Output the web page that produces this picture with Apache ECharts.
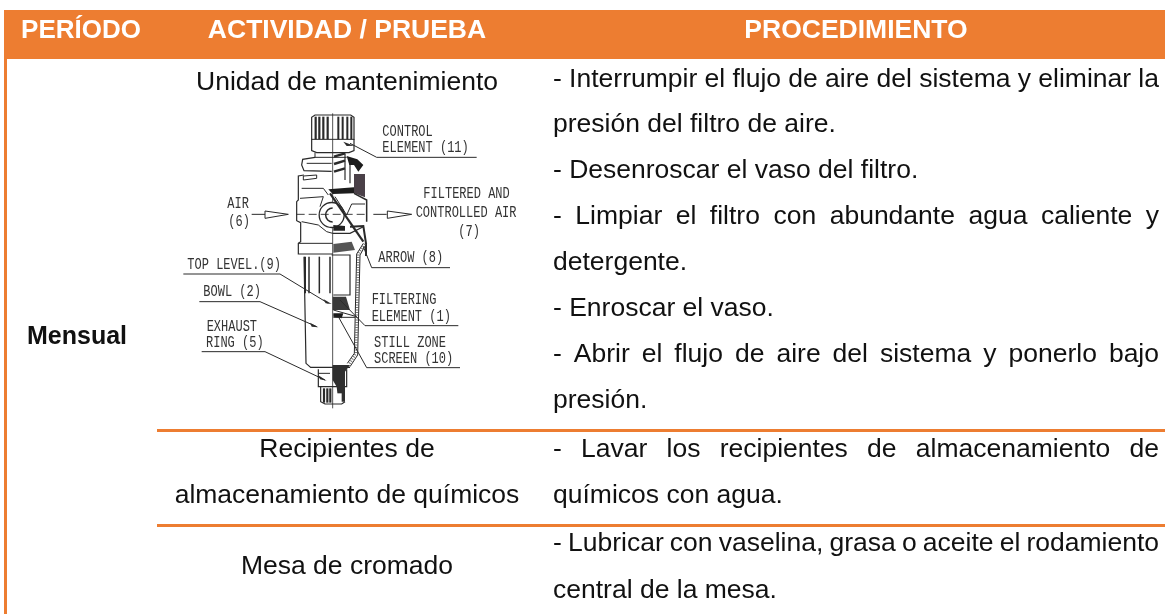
<!DOCTYPE html>
<html><head><meta charset="utf-8">
<style>html,body{margin:0;padding:0;background:#fff}#c{width:1165px;height:614px}</style>
<script src="https://cdn.jsdelivr.net/npm/echarts@6/dist/echarts.min.js"></script>
</head><body><div id="c"></div>
<script>
const headers=["PERÍODO","ACTIVIDAD / PRUEBA","PROCEDIMIENTO"];
const period=["Mensual"];
const activities=["Unidad de mantenimiento","Recipientes de","almacenamiento de químicos","Mesa de cromado"];
const procedure=[
"- Interrumpir el flujo de aire del sistema y eliminar la",
"presión del filtro de aire.",
"- Desenroscar el vaso del filtro.",
"- Limpiar el filtro con abundante agua caliente y",
"detergente.",
"- Enroscar el vaso.",
"- Abrir el flujo de aire del sistema y ponerlo bajo",
"presión.",
"- Lavar los recipientes de almacenamiento de",
"químicos con agua.",
"- Lubricar con vaselina, grasa o aceite el rodamiento",
"central de la mesa."];
const partLabels=["CONTROL","ELEMENT (11)","AIR","(6)","FILTERED AND","CONTROLLED AIR","(7)","ARROW (8)","TOP LEVEL.(9)","BOWL (2)","FILTERING","ELEMENT (1)","EXHAUST","RING (5)","STILL ZONE","SCREEN (10)"];

const ORANGE='#ed7d31',FONT='"Liberation Sans",Arial,sans-serif',SZ=26.5,INK='#111';
const g=[];
const rect=(x,y,w,h,f)=>g.push({type:'rect',shape:{x,y,width:w,height:h},style:{fill:f},silent:true});
const text=(t,x,base,o={})=>{const s=o.s||SZ;g.push({type:'text',x,y:base-0.27*s,style:{text:t,fill:o.fill||INK,font:`${o.b?'bold ':''}${s}px ${FONT}`,textAlign:o.a||'left',textVerticalAlign:'middle'},silent:true});};
// table frame
rect(4,10,1161,49,ORANGE);
rect(4,59,3,555,ORANGE);
rect(157,429,1008,3,ORANGE);
rect(157,524,1008,3,ORANGE);
const hdrOpt={b:1,fill:'#fff',a:'center'};
text(headers[0],81,37.5,{...hdrOpt,s:26});
text(headers[1],347,37.5,hdrOpt);
text(headers[2],856,37.5,hdrOpt);
text(period[0],77,344,{b:1,a:'center',s:25});
[90,456.7,502.7,574].forEach((b,i)=>text(activities[i],347,b,{a:'center'}));
// procedure column, justified lines are spread word by word
const procBase=[86.7,131.7,177.7,224,270,316,361.7,407.7,456.7,502.7,550.7,597.7];
const justified=[0,3,6,8,10];
const mc=document.createElement('canvas').getContext('2d');
mc.font=`${SZ}px ${FONT}`;
const L=553,R=1159;
procedure.forEach((t,i)=>{
  const y=procBase[i];
  if(!justified.includes(i)){text(t,L,y);return;}
  const ws=t.split(' ');const sum=ws.reduce((a,w)=>a+mc.measureText(w).width,0);
  const gap=(R-L-sum)/(ws.length-1);let x=L;
  ws.forEach(w=>{text(w,x,y);x+=mc.measureText(w).width+gap;});
});

// ---- illustration, in a local frame (crop units: 3 per pixel, origin at 150,100)
const P=(X,Y)=>[150+X/3,100+Y/3];
const PP=a=>a.map(p=>P(p[0],p[1]));
const DK='#2a2a2a';
const line=(pts,w=1,c=DK,dash)=>g.push({type:'polyline',shape:{points:PP(pts)},style:{stroke:c,lineWidth:w,fill:null,lineDash:dash||null},silent:true});
const poly=(pts,f=DK)=>g.push({type:'polygon',shape:{points:PP(pts)},style:{fill:f,stroke:null},silent:true});
const labelPos=[[697,95],[697,145],[232,313],[235,367],[820,283],[797,338],[925,395],[685,475],[112,495],[160,577],[665,600],[665,650],[170,680],[168,728],[672,730],[672,777]];
partLabels.forEach((t,i)=>{const [x,y]=P(labelPos[i][0],labelPos[i][1]);
  g.push({type:'text',x,y,scaleY:1.3,style:{text:t,fill:'#333',font:`12px "Liberation Mono",monospace`,textAlign:'left',textVerticalAlign:'middle'},silent:true});});
// centre line
line([[548,40],[548,925]],0.8);
// knob
line([[485,120],[485,52],[495,45],[602,45],[612,52],[612,120]],1.2);
[497,508,520,533,565,578,592,604].forEach(X=>line([[X,50],[X,118]],X<540?2.2:2));
line([[485,118],[612,118]],1);
line([[485,118],[485,152],[500,158],[597,158],[612,152],[612,118]],1.2);
line([[495,158],[495,172],[590,172]],1);
poly([[580,125],[612,137],[590,138]]);
// collar & upper body
line([[495,172],[458,178],[455,195],[462,212],[545,214]],1.2);
line([[470,190],[545,190]],1);
line([[462,225],[445,228],[445,300],[440,305],[440,362],[452,368],[452,425],[445,430],[445,462],[548,462]],1.2);
line([[460,228],[500,225],[500,235],[460,240],[460,228]],1);
line([[455,265],[520,265],[535,285]],1);
line([[450,295],[520,290],[510,320]],1);
line([[455,365],[505,375],[530,395],[548,400]],1);
line([[445,430],[548,430]],1);
// circle port
g.push({type:'circle',shape:{cx:150+545/3,cy:100+345/3,r:12.5},style:{stroke:DK,lineWidth:1.3,fill:'#fff'},silent:true});
g.push({type:'arc',shape:{cx:150+548/3,cy:100+345/3,r:7,startAngle:Math.PI/2,endAngle:Math.PI*1.5},style:{stroke:DK,lineWidth:1.5,fill:null},silent:true});
// right section (dark parts)
[[552,170],[552,192],[552,215]].forEach(p=>line([[p[0],p[1]],[585,p[1]-10]],2.5));
line([[585,160],[585,240]],1.2);line([[600,175],[600,250]],1.2);
poly([[590,168],[622,178],[640,195],[625,215],[612,195],[598,195]],'#1c1c1c');
poly([[612,222],[645,222],[645,292],[612,280]],'#4a4048');
poly([[535,268],[612,262],[612,280],[548,282]],'#1c1c1c');
line([[612,280],[650,300],[650,365]],1.5);
line([[548,400],[600,400],[640,380]],1.2);
poly([[550,375],[585,378],[585,392],[550,392]],'#222');
poly([[550,432],[605,425],[615,450],[550,458]],'#555');
line([[540,280],[640,425]],2.2);
line([[555,290],[590,345],[605,312],[645,312]],1);
line([[600,380],[640,378],[648,430],[648,468]],2);
// hatched wall
line([[645,432],[625,462],[618,760],[598,792]],2.5,'#777',[1,1.5]);
line([[640,430],[620,462],[613,760],[592,790]],1,DK);
line([[650,430],[630,465],[623,765],[600,800]],1,DK);
// bowl
line([[462,470],[468,790],[482,802],[600,802]],1.2);
[477,508,540].forEach(X=>line([[X,470],[X,580]],1.5));
line([[465,470],[465,580]],2);
line([[545,465],[600,465],[600,585],[550,585]],1.2);
// filter element + screen
poly([[548,590],[588,590],[600,630],[548,630]],'#3a3a3a');
poly([[550,640],[580,640],[575,655],[550,650]],'#1a1a1a');
line([[550,630],[620,650]],1);line([[550,652],[615,652]],1);
// drain
line([[505,808],[505,860],[590,860],[590,808]],1.2);
poly([[548,795],[600,795],[585,815],[585,905],[565,905],[560,860],[548,840]],'#2f2f2f');
line([[512,860],[512,905],[525,912],[575,912],[585,905]],1.2);
[522,532,541].forEach(X=>line([[X,865],[X,908]],2.2));
poly([[560,880],[575,880],[575,908],[560,908]],'#fff');
line([[505,820],[540,820]],1);
// flow arrows
line([[305,343],[345,343]],1);
line([[345,333],[345,355],[415,343],[345,333]],1);
line([[440,343],[650,343]],0.9,DK,[8,4]);
line([[670,343],[710,343]],1);
line([[712,333],[712,355],[785,343],[712,333]],1);
// leaders with underlines
line([[980,172],[680,172],[600,130]],1);
line([[900,503],[665,503],[640,440]],1);
line([[100,522],[390,522],[535,610]],1);
poly([[520,597],[545,612],[527,610]]);
line([[148,605],[330,605],[500,680]],1);
poly([[480,668],[505,682],[485,680]]);
line([[925,677],[645,677],[570,600]],1);
line([[155,755],[345,755],[525,840]],1);
poly([[505,826],[530,842],[510,838]]);
line([[930,803],[650,803],[565,650]],1);

const chart=echarts.init(document.getElementById('c'),null,{renderer:'canvas'});
chart.setOption({animation:false,backgroundColor:'#fff',graphic:{elements:g}});
</script></body></html>
